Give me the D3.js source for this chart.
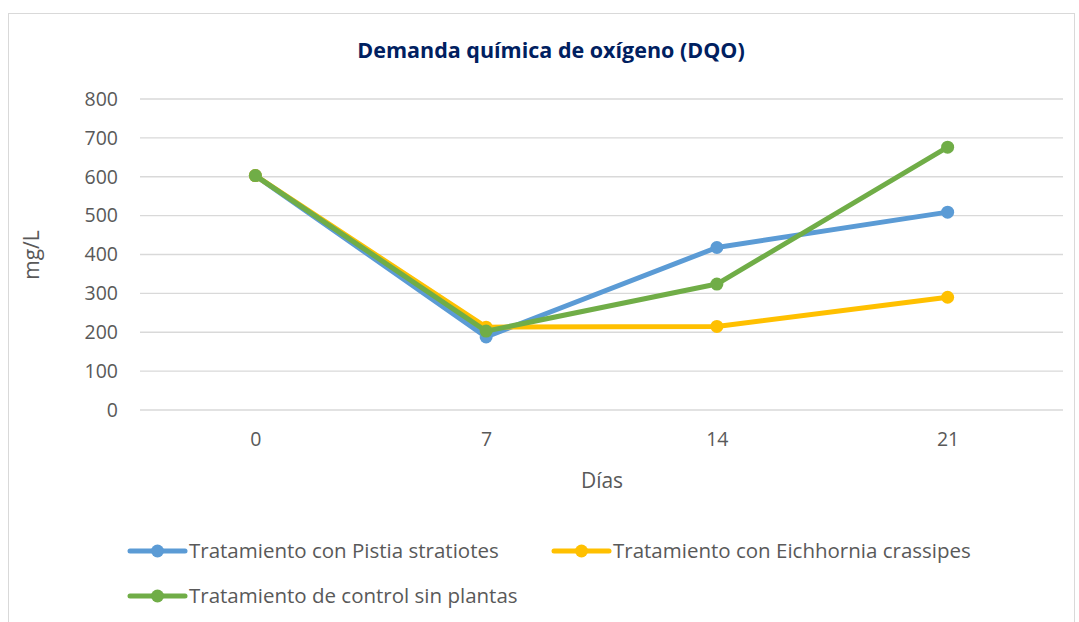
<!DOCTYPE html>
<html>
<head>
<meta charset="utf-8">
<script src="https://cdn.jsdelivr.net/npm/d3@7"></script>
<style>
  body { margin: 0; background: #fff; }
  svg text { font-family: "Open Sans", sans-serif; }
</style>
</head>
<body>
<svg width="1079" height="622"></svg>
<script>
// datos
var dias = ["0", "7", "14", "21"];
var pistia = [603, 188, 418, 509];
var eichhornia = [603, 213, 215, 290];
var control = [603, 203, 324, 676];
var yTicks = [0, 100, 200, 300, 400, 500, 600, 700, 800];

var series = [
  { name: "Tratamiento con Pistia stratiotes", color: "#5b9bd5", values: pistia },
  { name: "Tratamiento con Eichhornia crassipes", color: "#ffc000", values: eichhornia },
  { name: "Tratamiento de control sin plantas", color: "#70ad47", values: control }
];

var svg = d3.select("svg");

// marco del gráfico
svg.append("rect")
  .attr("x", 8.5).attr("y", 13.5)
  .attr("width", 1066).attr("height", 620)
  .attr("fill", "#fff")
  .attr("stroke", "#d9d9d9");

var plotLeft = 140, plotRight = 1063, plotTop = 99, plotBottom = 410;

var x = d3.scalePoint().domain(dias).range([plotLeft, plotRight]).padding(0.5);
var y = d3.scaleLinear().domain([0, 800]).range([plotBottom, plotTop]);

// líneas de cuadrícula
svg.append("g")
  .selectAll("line")
  .data(yTicks)
  .enter().append("line")
  .attr("x1", plotLeft).attr("x2", plotRight)
  .attr("y1", d => y(d)).attr("y2", d => y(d))
  .attr("stroke", "#d9d9d9")
  .attr("stroke-width", 1.3);

var yAxis = svg.append("g")
  .attr("transform", "translate(" + (plotLeft - 22) + ",0)")
  .call(d3.axisLeft(y).tickValues(yTicks).tickSize(0).tickPadding(0));
yAxis.select(".domain").remove();
yAxis.selectAll("text")
  .attr("fill", "#595959")
  .style("font-size", "19.5px");

var xAxis = svg.append("g")
  .attr("transform", "translate(0," + (plotBottom + 10) + ")")
  .call(d3.axisBottom(x).tickSize(0).tickPadding(12));
xAxis.select(".domain").remove();
xAxis.selectAll("text")
  .attr("fill", "#595959")
  .style("font-size", "19.5px");

// títulos
svg.append("text")
  .attr("x", 551).attr("y", 58)
  .attr("text-anchor", "middle")
  .attr("fill", "#002060")
  .style("font-size", "21.5px")
  .style("font-weight", "bold")
  .text("Demanda química de oxígeno (DQO)");

svg.append("text")
  .attr("x", 602).attr("y", 488)
  .attr("text-anchor", "middle")
  .attr("fill", "#595959")
  .style("font-size", "21px")
  .text("Días");

svg.append("text")
  .attr("transform", "translate(39,255) rotate(-90)")
  .attr("text-anchor", "middle")
  .attr("fill", "#595959")
  .style("font-size", "21px")
  .text("mg/L");

var line = d3.line()
  .x((d, i) => x(dias[i]))
  .y(d => y(d));

var g = svg.append("g")
  .selectAll("g")
  .data(series)
  .enter().append("g");

g.append("path")
  .attr("d", d => line(d.values))
  .attr("fill", "none")
  .attr("stroke", d => d.color)
  .attr("stroke-width", 5)
  .attr("stroke-linejoin", "round");

g.selectAll("circle")
  .data(d => d.values.map(v => ({ v: v, color: d.color })))
  .enter().append("circle")
  .attr("cx", (d, i) => x(dias[i]))
  .attr("cy", d => y(d.v))
  .attr("r", 6.5)
  .attr("fill", d => d.color);

// leyenda
var legendPos = [[130, 551], [554, 551], [130, 596]];
var legend = svg.append("g")
  .selectAll("g")
  .data(series)
  .enter().append("g")
  .attr("transform", (d, i) => "translate(" + legendPos[i][0] + "," + legendPos[i][1] + ")");

legend.append("line")
  .attr("x1", 0).attr("x2", 55)
  .attr("stroke", d => d.color)
  .attr("stroke-width", 5)
  .attr("stroke-linecap", "round");

legend.append("circle")
  .attr("cx", 27.5).attr("r", 6.5)
  .attr("fill", d => d.color);

legend.append("text")
  .attr("x", 59).attr("dy", "0.35em")
  .attr("fill", "#595959")
  .style("font-size", "20.5px")
  .text(d => d.name);
</script>
</body>
</html>
